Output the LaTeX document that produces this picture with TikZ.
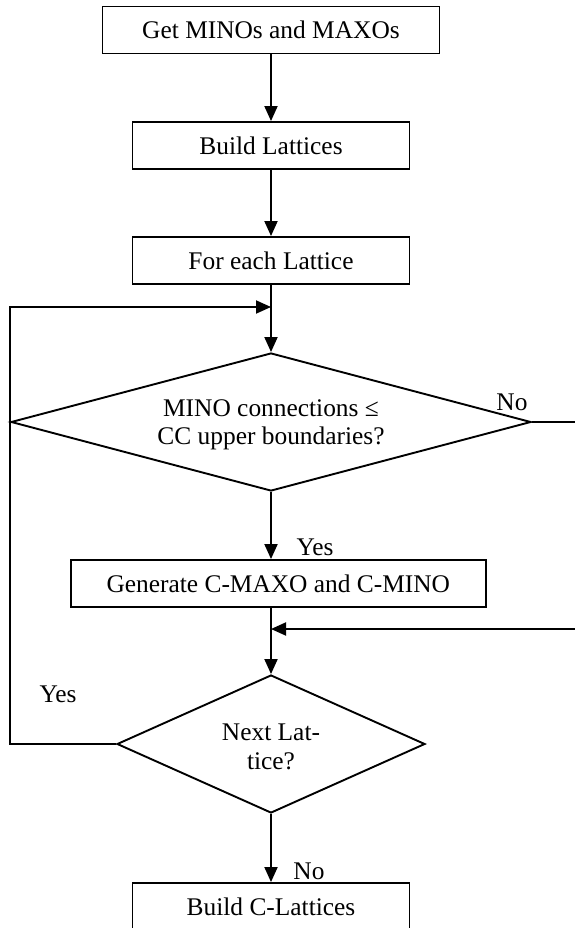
\documentclass[tikz,border=0pt]{standalone}
\usepackage{fontspec}
\setmainfont{Liberation Serif}
\usetikzlibrary{arrows.meta,shapes.geometric}

\tikzset{
  every node/.style={font=\fontsize{25.4}{28.5}\selectfont},
  procbox/.style={draw, line width=1.9pt, rectangle, inner sep=0pt, minimum height=47pt},
  decision/.style={draw, line width=1.9pt, diamond, inner sep=0pt},
  flow/.style={line width=1.9pt, -{Triangle[length=15pt,width=13pt]}},
  lbl/.style={inner sep=0pt}
}

\begin{document}
\begin{tikzpicture}[x=1pt, y=-1pt]
  \useasboundingbox (0,0) rectangle (574,928);

  % process boxes
  \node[procbox, minimum width=337pt] (getmm) at (271,30) {Get MINOs and MAXOs};
  \node[procbox, minimum width=277pt] (build) at (271,145.5) {Build Lattices};
  \node[procbox, minimum width=277pt] (foreach) at (271,260.5) {For each Lattice};

  % first decision
  \node[decision, minimum width=520pt, minimum height=138pt] (cond) at (271,422) {};
  \node[lbl, align=center] (condtext) at (271,425) {MINO connections ≤\\CC upper boundaries?};

  \node[procbox, minimum width=415.4pt] (gen) at (278.3,583.5) {Generate C-MAXO and C-MINO};

  % second decision
  \node[decision, minimum width=308pt, minimum height=138pt] (next) at (271,744) {};
  \node[lbl, align=center] (nexttext) at (271,747) {Next Lat-\\tice?};

  \node[procbox, minimum width=277pt] (final) at (271,906.5) {Build C-Lattices};

  % branch labels
  \node[lbl] (noA) at (512,402) {No};
  \node[lbl] (yesA) at (315,547) {Yes};
  \node[lbl] (yesB) at (58,694) {Yes};
  \node[lbl] (noB) at (309,871) {No};

  % corner points of the return lines
  \coordinate (loopleft) at (10,307);
  \coordinate (loopjoin) at (271,307);
  \coordinate (rightturn) at (577,629);
  \coordinate (rightjoin) at (271,629);

  % main flow
  \draw[flow] (getmm) -- (build);
  \draw[flow] (build) -- (foreach);
  \draw[flow] (foreach) -- (cond.north);
  \draw[flow] (cond.south) -- (cond.south |- gen.north);
  \draw[flow] (gen.south -| next.north) -- (next.north);
  \draw[flow] (next.south) -- (final.north);

  % loop back to the next lattice
  \draw[flow] (next.west) -| (loopleft) -- (loopjoin);

  % "No" branch of the first decision
  \draw[flow] (cond.east) -| (rightturn) -- (rightjoin);
\end{tikzpicture}
\end{document}
